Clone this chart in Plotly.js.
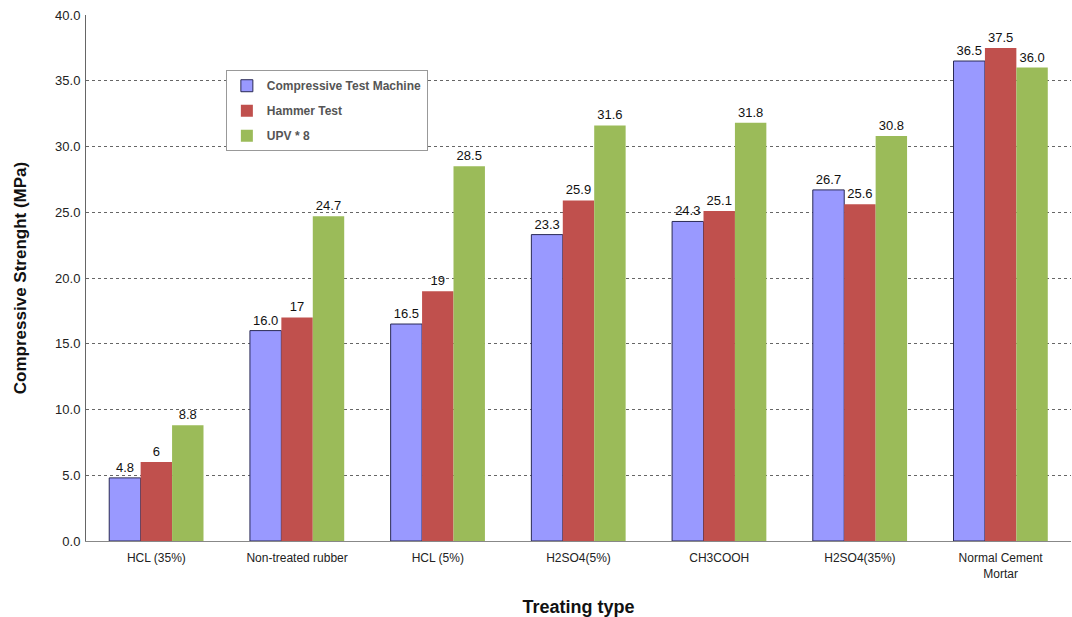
<!DOCTYPE html>
<html>
<head>
<meta charset="utf-8">
<script src="https://cdn.plot.ly/plotly-3.0.1.min.js"></script>
<style>html,body{margin:0;padding:0;background:#fff;}#chart{width:1072px;height:617px;}</style>
</head>
<body>
<div id="chart"></div>
<script>
const categories = ["HCL (35%)", "Non-treated rubber", "HCL (5%)", "H2SO4(5%)", "CH3COOH", "H2SO4(35%)", "Normal Cement<br>Mortar"];
const seriesNames = ["Compressive Test Machine", "Hammer Test", "UPV * 8"];
const compressive = [4.8, 16.0, 16.5, 23.3, 24.3, 26.7, 36.5];
const hammer = [6, 17, 19, 25.9, 25.1, 25.6, 37.5];
const upv = [8.8, 24.7, 28.5, 31.6, 31.8, 30.8, 36.0];
const compressiveLabels = ["4.8", "16.0", "16.5", "23.3", "24.3", "26.7", "36.5"];
const hammerLabels = ["6", "17", "19", "25.9", "25.1", "25.6", "37.5"];
const upvLabels = ["8.8", "24.7", "28.5", "31.6", "31.8", "30.8", "36.0"];
const yTicks = [0, 5, 10, 15, 20, 25, 30, 35, 40];

const font = "Liberation Sans, Arial, sans-serif";
function mk(name, y, labels, color, line, grp) {
  return {
    type: "bar", name: name, x: categories, y: y, legendgroup: grp,
    text: labels, textposition: "outside", cliponaxis: false, constraintext: "none",
    textfont: {family: font, size: 13, color: "#111"},
    marker: {color: color, line: line},
    hoverinfo: "x+y"
  };
}
const data = [
  mk(seriesNames[0], compressive, compressiveLabels, "#9999FF", {color: "#2a2a55", width: 1}, "g1"),
  mk(seriesNames[1], hammer, hammerLabels, "#C0504D", {width: 0}, "g2"),
  mk(seriesNames[2], upv, upvLabels, "#9BBB59", {width: 0}, "g3")
];
const layout = {
  width: 1072, height: 617,
  margin: {l: 86, r: 1, t: 15, b: 76},
  paper_bgcolor: "#fff", plot_bgcolor: "#fff",
  barmode: "group", bargap: 0.33, bargroupgap: 0,
  font: {family: font, size: 12, color: "#222"},
  xaxis: {
    type: "category", tickfont: {family: font, size: 12, color: "#222"},
    showline: true, linecolor: "#888", linewidth: 1, ticks: "", showgrid: false,
    ticklabelstandoff: 6,
    title: {text: "Treating type", font: {family: font, size: 18, color: "#111", weight: "bold"}, standoff: 22},
    automargin: false
  },
  yaxis: {
    range: [0, 40], tickvals: yTicks, tickformat: ".1f",
    tickfont: {family: font, size: 13, color: "#222"},
    showgrid: true, gridcolor: "#666", gridwidth: 1, griddash: "dot",
    showline: true, linecolor: "#666", linewidth: 1, ticks: "", zeroline: false,
    ticklabelstandoff: 2,
    title: {text: "Compressive Strenght (MPa)", font: {family: font, size: 17, color: "#111", weight: "bold"}, standoff: 24},
    automargin: false
  },
  legend: {
    x: 0.142, y: 0.895, xanchor: "left", yanchor: "top",
    bgcolor: "#fff", bordercolor: "#999", borderwidth: 1,
    font: {family: font, size: 12, color: "#555", weight: "bold"},
    itemwidth: 30, tracegroupgap: 6, traceorder: "grouped"
  },
  showlegend: true
};
Plotly.newPlot("chart", data, layout, {displayModeBar: false, staticPlot: true});
</script>
</body>
</html>
